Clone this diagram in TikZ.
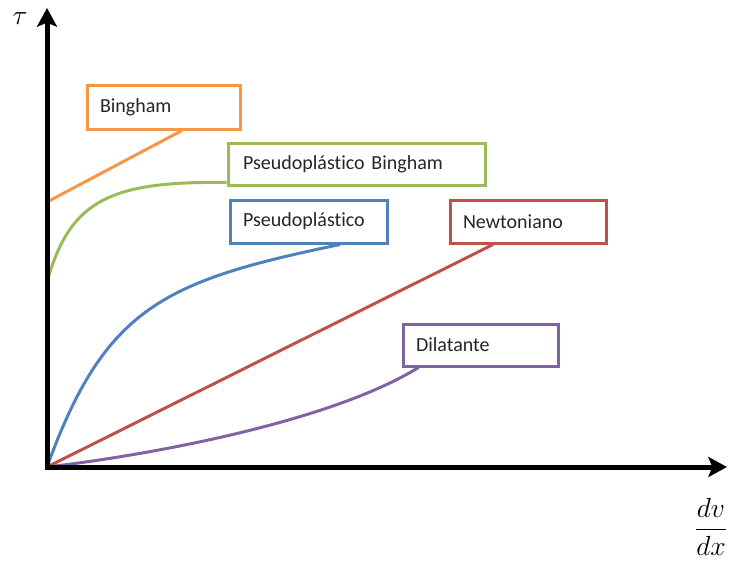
\documentclass[tikz,border=0pt]{standalone}
\usepackage{fontspec}
\setmainfont{Carlito}[Ligatures={NoCommon}]
\usetikzlibrary{arrows.meta,calc}
\definecolor{cOrange}{HTML}{F79646}
\definecolor{cGreen}{HTML}{9BBB59}
\definecolor{cBlue}{HTML}{4F81BD}
\definecolor{cRed}{HTML}{C0504D}
\definecolor{cPurple}{HTML}{8064A2}
\tikzset{
  axis/.style={line width=3.75pt,-{Stealth[length=14pt,width=15pt,inset=3pt]}},
  labelbox/.style={draw,fill=white,line width=2.25pt,align=left,inner xsep=9.75pt,inner ysep=0pt,
    font=\fontsize{15}{17}\selectfont,text=black!85},
  curve/.style={line width=2.25pt}
}
\begin{document}
\begin{tikzpicture}[x=0.75pt,y=-0.75pt]
\useasboundingbox (0,0) rectangle (730,565);
% axes
\coordinate (origin) at (47,467);
\coordinate (ytop) at (47,8);
\coordinate (xend) at (727,467);
\coordinate (ybing) at (47,202);
\coordinate (ypb) at (47,282);
% boxes
\node[labelbox,draw=cOrange,text width=95.25pt,minimum height=33pt] (bingham) at (163.5,107) {Bingham};
\node[labelbox,draw=cGreen,text width=170.25pt,inner xsep=11.25pt,minimum height=31.5pt] (pb) at (356.5,164) {Pseudoplástico Bingham};
\node[labelbox,draw=cBlue,text width=98.25pt,minimum height=32.25pt] (p) at (308.5,221.5) {Pseudoplástico};
\node[labelbox,draw=cRed,text width=97.5pt,minimum height=32.25pt] (n) at (528,221.5) {Newtoniano};
\node[labelbox,draw=cPurple,text width=96.75pt,minimum height=31.5pt] (d) at (480.5,345) {Dilatante};
% curves
\draw[curve,cOrange] (ybing) -- ($(bingham.south)+(18.5,0)$);
\draw[curve,cGreen] (ypb) .. controls (70,200) and (110,181) .. ($(pb.south west)+(0,-4)$);
\draw[curve,cBlue] (origin) .. controls (105,307) and (164,281) .. ($(p.south)+(31.5,0)$);
\draw[curve,cRed] (origin) -- ($(n.south)+(-35,0)$);
\draw[curve,cPurple] (origin) .. controls (150,455) and (330,422) .. ($(d.south west)+(17,0)$);
\draw[axis] ($(origin)+(0,2.5)$) -- (ytop);
\draw[axis] ($(origin)+(-2.5,0)$) -- (xend);
% labels
\node (tau) at (20,19) {\fontsize{21}{25}\selectfont$\tau$};
\node (frac) at (711,527) {\fontsize{21}{25}\selectfont$\displaystyle\frac{dv}{dx}$};
\end{tikzpicture}
\end{document}
